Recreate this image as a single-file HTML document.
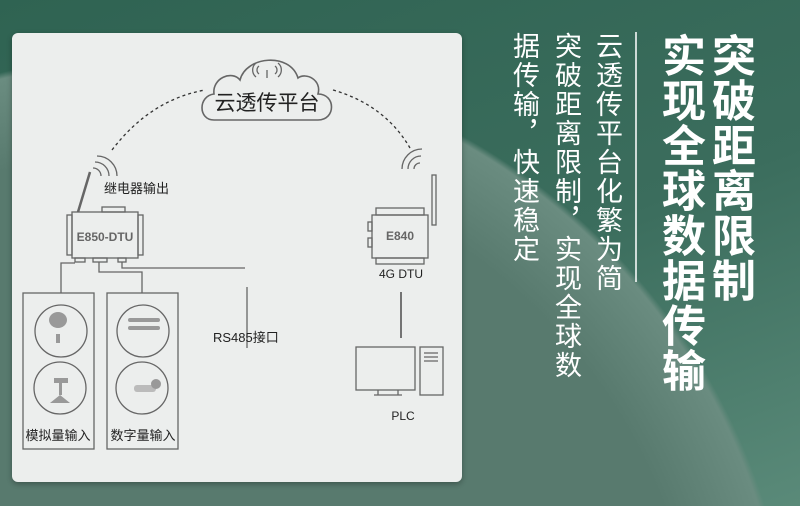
<!DOCTYPE html>
<html><head><meta charset="utf-8">
<style>
*{margin:0;padding:0}
body{width:800px;height:506px;overflow:hidden;position:relative;font-family:"Liberation Sans","Noto Sans CJK SC",sans-serif;
background:radial-gradient(circle 645px at 150px 700px,#587a6e 0%,#587a6e 85%,#6a8c80 99%,transparent 100%),linear-gradient(160deg,#2f6352 0%,#3b6d5d 55%,#5a8a79 100%);}
.panel{position:absolute;left:12px;top:33px;width:450px;height:449px;border-radius:6px;background:#eceeed;box-shadow:0 2px 6px rgba(0,0,0,.3)}
.v{position:absolute;writing-mode:vertical-rl;color:#fff;white-space:nowrap}
.big{font-size:44px;font-weight:bold;line-height:46px;letter-spacing:1px}
.sm{font-size:27px;line-height:30px;letter-spacing:2px}
</style></head><body>
<div class="panel"></div>
<svg style="position:absolute;left:0;top:0" width="800" height="506">
<g fill="none" stroke="#666" stroke-width="1.3">
<path d="M214,120 C198,120 198,96 214,94 C212,78 232,70 240,80 C246,56 290,52 298,78 C306,72 322,80 318,94 C336,94 336,120 318,120 Z" stroke-width="1.6"/>
<path d="M112,150 Q150,100 205,90" stroke-dasharray="3,3" stroke="#333"/>
<path d="M333,90 Q385,105 410,148" stroke-dasharray="3,3" stroke="#333"/>
<path d="M93,168 a8,8 0 0 1 8,8 M95,162 a14,14 0 0 1 14,14 M97,156 a20,20 0 0 1 20,20" />
<path d="M420,163 a6,6 0 0 0 -6,6 M421,156 a13,13 0 0 0 -13,13 M422,149 a20,20 0 0 0 -20,20"/>
<path d="M259,66 a5,5 0 0 0 0,8 M275,66 a5,5 0 0 1 0,8 M256,63 a9,9 0 0 0 0,14 M278,63 a9,9 0 0 1 0,14"/>
<line x1="267" y1="70" x2="267" y2="78"/>
<rect x="72" y="212" width="66" height="46"/>
<rect x="67" y="215" width="5" height="40"/><rect x="138" y="215" width="5" height="40"/>
<rect x="102" y="207" width="23" height="5"/>
<rect x="75" y="258" width="10" height="4"/><rect x="93" y="258" width="14" height="4"/><rect x="118" y="258" width="8" height="4"/>
<line x1="78" y1="212" x2="90" y2="172" stroke-width="2.5"/>
<path d="M61,293 V263 H75 M99,262 V272 H142 V293 M122,262 V268 H245 M247,287 V348"/>
<rect x="23" y="293" width="71" height="156"/><rect x="107" y="293" width="71" height="156"/>
<circle cx="61" cy="331" r="26"/><circle cx="60" cy="388" r="26"/>
<circle cx="143" cy="331" r="26"/><circle cx="142" cy="388" r="26"/>
<rect x="372" y="215" width="56" height="43"/>
<rect x="376" y="208" width="48" height="7"/><rect x="376" y="258" width="48" height="6"/>
<rect x="368" y="222" width="4" height="9"/><rect x="368" y="238" width="4" height="9"/>
<rect x="432" y="175" width="4" height="50"/>
<line x1="401" y1="292" x2="401" y2="338" stroke="#333"/>
<rect x="356" y="347" width="59" height="43"/><rect x="420" y="347" width="23" height="48"/>
<path d="M374,395 H402 M378,390 V395 M398,390 V395 M424,353 H438 M424,357 H438 M424,361 H438"/>
</g>
<g fill="#999"><ellipse cx="58" cy="320" rx="9" ry="8"/><rect x="56" y="334" width="4" height="9"/>
<rect x="54" y="378" width="14" height="5"/><rect x="59" y="383" width="3" height="12"/><path d="M50,403 L60,395 L70,403 Z"/>
<rect x="128" y="318" width="32" height="4" rx="2"/><rect x="128" y="326" width="32" height="4" rx="2"/>
<rect x="134" y="385" width="22" height="7" rx="3" fill="#bbb"/><circle cx="156" cy="384" r="5"/></g>
<g font-family="Liberation Sans,Noto Sans CJK SC,sans-serif" fill="#222">
<text x="267" y="110" font-size="21" text-anchor="middle">云透传平台</text>
<text x="104" y="193" font-size="13">继电器输出</text>
<text x="105" y="241" font-size="12" font-weight="bold" fill="#666" text-anchor="middle">E850-DTU</text>
<text x="400" y="240" font-size="12" font-weight="bold" fill="#666" text-anchor="middle">E840</text>
<text x="401" y="278" font-size="12" text-anchor="middle">4G DTU</text>
<text x="213" y="342" font-size="13">RS485接口</text>
<text x="403" y="420" font-size="12" text-anchor="middle">PLC</text>
<text x="58" y="440" font-size="13" text-anchor="middle">模拟量输入</text>
<text x="143" y="440" font-size="13" text-anchor="middle">数字量输入</text>
</g>
<line x1="636" y1="32" x2="636" y2="282" stroke="#fff" stroke-width="1.5"/>
</svg>
<div class="v big" style="left:706px;top:33px">突破距离限制</div>
<div class="v big" style="left:656px;top:33px">实现全球数据传输</div>
<div class="v sm" style="left:592px;top:32px">云透传平台化繁为简</div>
<div class="v sm" style="left:551px;top:32px">突破距离限制，实现全球数</div>
<div class="v sm" style="left:509px;top:32px">据传输，快速稳定</div>
</body></html>
